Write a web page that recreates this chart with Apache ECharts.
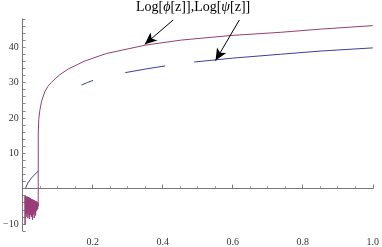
<!DOCTYPE html>
<html>
<head>
<meta charset="utf-8">
<script src="https://cdn.jsdelivr.net/npm/echarts@6/dist/echarts.min.js"></script>
<style>
html,body{margin:0;padding:0;background:#fff;}
#c{width:382px;height:247px;}
</style>
</head>
<body>
<div id="c"></div>
<script>
// Log[phi[z]] (purple): oscillating part, then the rising branch
var phiX = [0.0065,0.0070,0.0075,0.0080,0.0085,0.0090,0.0095,0.0100,0.0105,0.0110,0.0115,0.0120,0.0125,0.0130,0.0135,0.0140,0.0145,0.0150,0.0155,0.0160,0.0165,0.0170,0.0175,0.0180,0.0185,0.0190,0.0195,0.0200,0.0205,0.0210,0.0215,0.0220,0.0225,0.0230,0.0235,0.0240,0.0245,0.0250,0.0255,0.0260,0.0265,0.0270,0.0275,0.0280,0.0285,0.0290,0.0295,0.0300,0.0305,0.0310,0.0315,0.0320,0.0325,0.0330,0.0335,0.0340,0.0345,0.0350,0.0355,0.0360,0.0365,0.0370,0.0375,0.0380,0.0385,0.0390,0.0395,0.0400,0.0405,0.0410,0.0415,0.0420,0.0425,0.0430,0.0435,0.0440,0.0445,
            0.0446,0.046,0.049,0.054,0.063,0.072,0.082,0.094,0.106,0.13,0.153,0.175,0.201,0.239,0.281,0.352,0.452,0.594,0.736,0.85,1.0];
var phiY = [-2.0,-10.2,-2.1,-7.5,-2.3,-6.0,-2.2,-8.0,-2.5,-6.8,-2.4,-5.5,-2.6,-7.2,-2.3,-6.2,-2.8,-8.4,-2.5,-6.5,-2.7,-5.8,-2.4,-7.6,-2.9,-6.0,-2.6,-8.6,-2.8,-6.4,-3.0,-5.6,-2.7,-7.4,-3.1,-6.2,-2.9,-8.0,-3.2,-5.9,-3.0,-7.0,-3.3,-8.8,-3.1,-6.1,-3.4,-5.4,-3.2,-7.3,-3.5,-6.0,-3.3,-8.3,-3.6,-5.8,-3.4,-6.6,-3.7,-5.2,-3.5,-7.6,-3.8,-5.6,-3.6,-6.4,-3.9,-5.3,-3.7,-6.0,-4.0,-5.2,-3.8,-5.8,-4.2,-4.6,-5.0,
            16.0,19.5,22.0,24.7,27.3,28.9,30.0,31.2,32.2,33.8,34.9,36.0,36.9,38.2,39.1,40.6,42.0,43.3,44.2,45.1,46.1];
// Log[psi[z]] (blue); null = gap
var psiX = [0.0077,0.015,0.025,0.034,0.041,0.0445,0.1,0.168,0.185,0.201,0.25,0.293,0.35,0.407,0.45,0.49,0.6,0.736,0.85,1.0];
var psiY = [0,1.6,3.0,3.9,4.6,5.0,null,29.3,30.0,30.6,null,32.8,33.8,34.7,null,35.8,36.9,38.0,38.9,39.8];
// x / y tick labels
var xTickLabels = ['0.2','0.4','0.6','0.8','1.0'];
var yTickLabels = ['-10','10','20','30','40'];
// annotation arrows: [startX, startY, tipX, tipY]
var arrowPhi = [0.43, 47.7, 0.349, 40.8];
var arrowPsi = [0.619, 47.7, 0.551, 36.2];

function pairs(xs, ys){ return xs.map(function(x,i){ return [x, ys[i]==null ? '-' : ys[i]]; }); }
function arrow(a){ return [{coord:[a[0],a[1]]},{coord:[a[2],a[3]]}]; }

var chart = echarts.init(document.getElementById('c'), null, {renderer:'canvas'});
var axisFont = {fontFamily:'Liberation Serif', fontSize:10, color:'#333'};
chart.setOption({
  animation:false,
  backgroundColor:'#fff',
  title:{
    text:'{n|Log[}{i|ϕ}{n|[z]],Log[}{i|ψ}{n|[z]]}',
    left:136, top:0, padding:0,
    textStyle:{
      fontWeight:'normal',
      rich:{
        n:{fontFamily:'Liberation Serif', fontSize:14, fontWeight:'normal', color:'#000'},
        i:{fontFamily:'Liberation Serif', fontSize:14, fontWeight:'normal', fontStyle:'italic', color:'#000'}
      }
    }
  },
  grid:{left:21, right:9, top:18.9, bottom:2.3, containLabel:false},
  xAxis:{
    type:'value', min:0, max:1, interval:0.2,
    axisLine:{onZero:true, lineStyle:{color:'#777', width:1}},
    axisTick:{inside:true, length:4, lineStyle:{color:'#777'}},
    minorTick:{show:true, splitNumber:4, length:2.5, lineStyle:{color:'#999'}},
    splitLine:{show:false},
    axisLabel:Object.assign({margin:6, formatter:function(v){
      var s = v.toFixed(1); return xTickLabels.indexOf(s) >= 0 ? s : '';
    }}, axisFont)
  },
  yAxis:{
    type:'value', min:-12, max:48, interval:2,
    axisLine:{onZero:true, lineStyle:{color:'#777', width:1}},
    axisTick:{inside:true, length:3, lineStyle:{color:'#888'}},
    splitLine:{show:false},
    axisLabel:Object.assign({margin:4, formatter:function(v){
      var s = String(Math.round(v)); return yTickLabels.indexOf(s) >= 0 ? s.replace('-','\u2212') : '';
    }}, axisFont)
  },
  series:[
    {type:'line', data:pairs(phiX, phiY), showSymbol:false, symbol:'none',
     lineStyle:{color:'#993d79', width:1}, connectNulls:false, z:3,
     markLine:{silent:true, symbol:['none','arrow'], symbolSize:[8,12],
       lineStyle:{color:'#000', width:1, type:'solid'}, label:{show:false},
       data:[arrow(arrowPhi), arrow(arrowPsi)]}
    },
    {type:'line', data:pairs(psiX, psiY), showSymbol:false, symbol:'none',
     lineStyle:{color:'#3d3f99', width:1}, connectNulls:false, z:2}
  ]
});
</script>
</body>
</html>
